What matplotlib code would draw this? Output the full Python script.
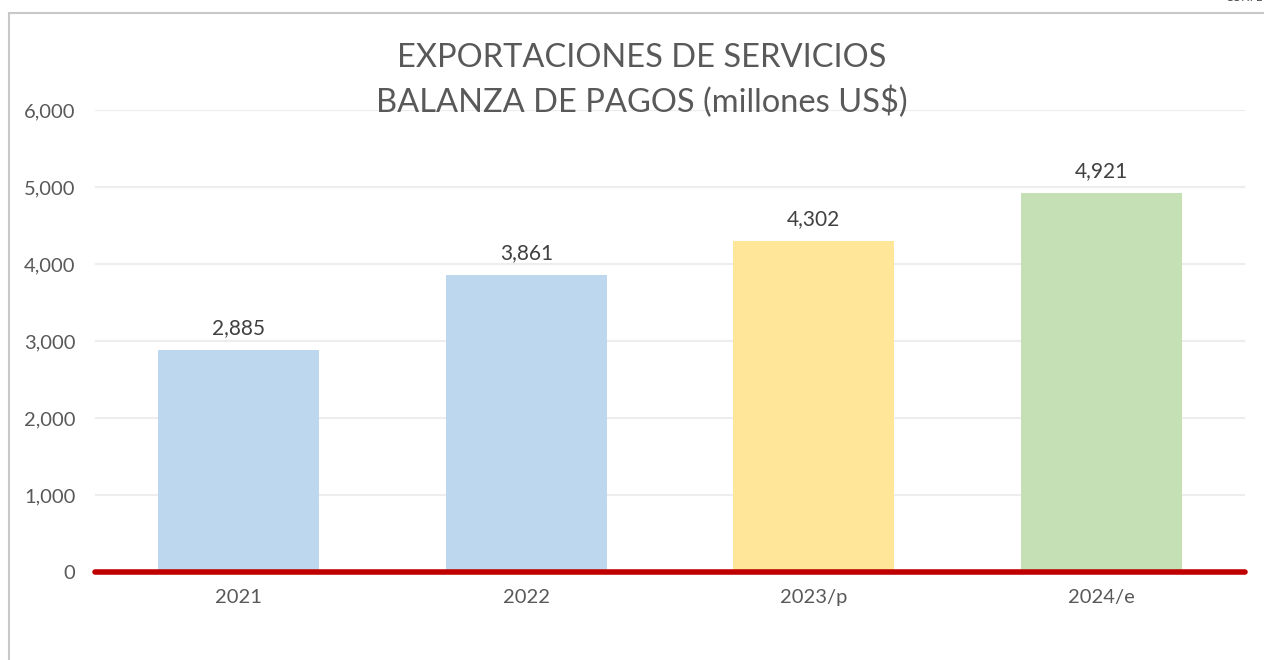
import matplotlib.pyplot as plt
from matplotlib.patches import Rectangle

categories = ["2021", "2022", "2023/p", "2024/e"]
values = [2885, 3861, 4302, 4921]
colors = ["#BDD7EE", "#BDD7EE", "#FFE699", "#C5E0B4"]
yticks = [0, 1000, 2000, 3000, 4000, 5000, 6000]

plt.rcParams['font.family'] = ['Lato', 'DejaVu Sans']

fig = plt.figure(figsize=(12.64, 6.6), dpi=100)
ax = fig.add_axes([95 / 1264, 1 - 572 / 660, 1150 / 1264, 462 / 660])

x = range(len(categories))
ax.bar(x, values, width=0.56, color=colors, zorder=2)
for i, v in enumerate(values):
    ax.text(i, v + 150, f"{v:,}", ha="center", va="bottom", fontsize=15, color="#404040")

ax.set_xlim(-0.5, len(categories) - 0.5)
ax.set_ylim(0, 6000)
ax.set_yticks(yticks)
ax.set_yticklabels([f"{t:,}" for t in yticks], fontsize=14.5, color="#595959")
ax.set_xticks(list(x))
ax.set_xticklabels(categories, fontsize=14.5, color="#595959")
ax.tick_params(axis="both", length=0)
ax.tick_params(axis="y", pad=14)
ax.tick_params(axis="x", pad=12)
ax.grid(axis="y", color="#EDEDED", linewidth=1.5, zorder=0)
for s in ax.spines.values():
    s.set_visible(False)
ax.axhline(0, color="#C00000", linewidth=4, solid_capstyle="round", zorder=3, clip_on=False)

fig.text(0.508, 1 - 58 / 660, "EXPORTACIONES DE SERVICIOS", ha="center", va="center",
         fontsize=23.5, color="#595959")
fig.text(0.508, 1 - 102 / 660, "BALANZA DE PAGOS (millones US$)", ha="center", va="center",
         fontsize=23.5, color="#595959")

# chart border
fig.patches.append(Rectangle((9 / 1264, -0.1), 1.1, 1 - 13 / 660 + 0.1,
                             transform=fig.transFigure, fill=False,
                             edgecolor="#C8C8C8", linewidth=1.5))
fig.text(0.999, 1.004, "CONFE", ha="right", va="center", fontsize=8, color="#404040")

fig.savefig("out.png", dpi=100)
